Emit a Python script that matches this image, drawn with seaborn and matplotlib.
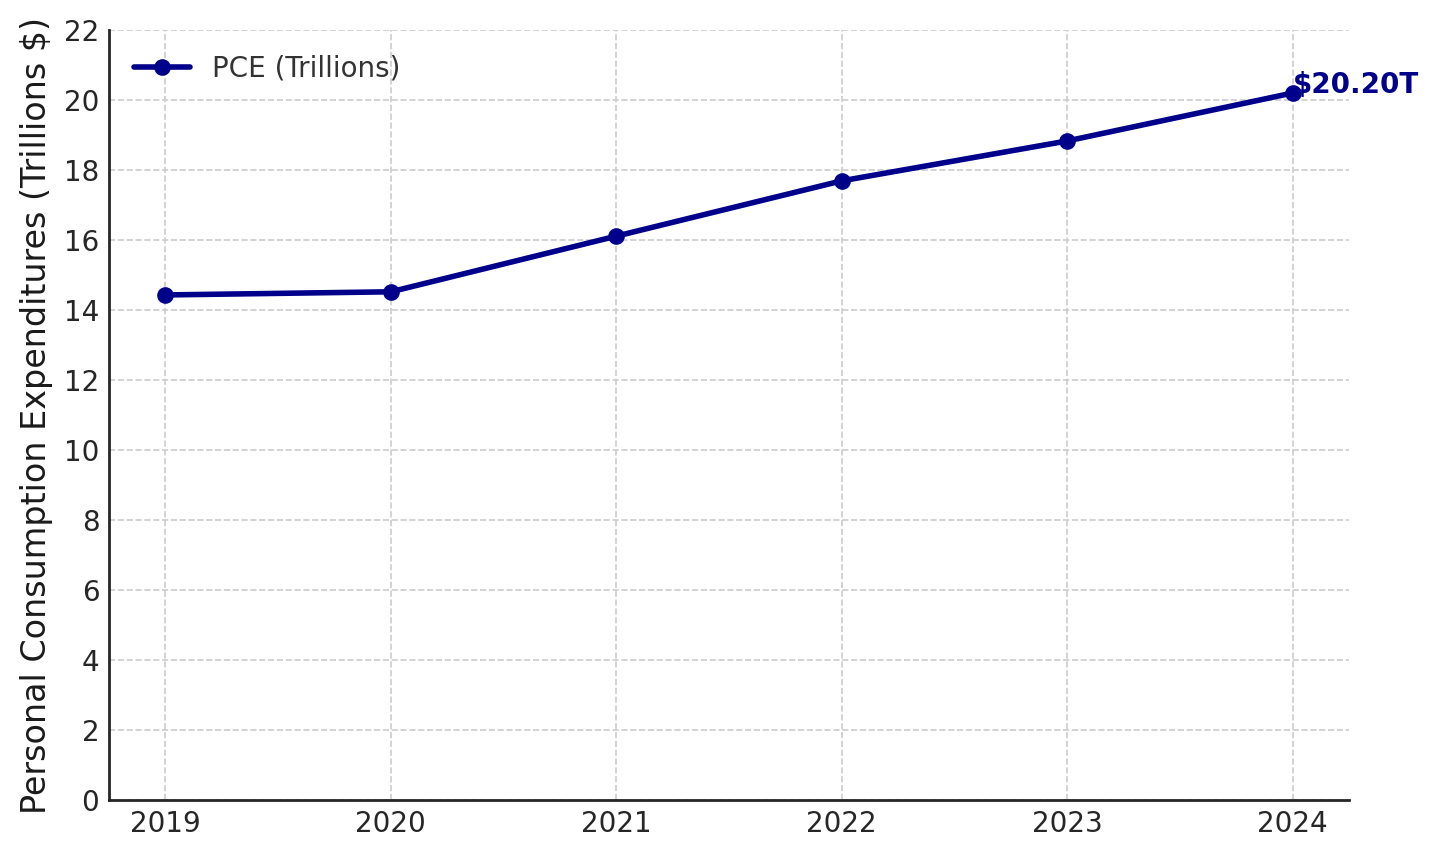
import matplotlib
matplotlib.use("Agg")
import matplotlib.pyplot as plt
import seaborn as sns
import pandas as pd

years = [2019, 2020, 2021, 2022, 2023, 2024]
pce = [14.43, 14.52, 16.11, 17.69, 18.83, 20.20]
yticks = list(range(0, 23, 2))

sns.set_style("white")
plt.rcParams['font.family'] = ['DejaVu Sans']

df = pd.DataFrame({"Year": years, "PCE": pce})

fig, ax = plt.subplots(figsize=(1439/200, 858/200), dpi=200)
fig.subplots_adjust(left=109/1439, right=1349/1439, top=1-30/858, bottom=1-800/858)

sns.lineplot(data=df, x="Year", y="PCE", marker="o", color="darkblue",
             linewidth=2, markersize=6, markeredgewidth=0, label="PCE (Trillions)", ax=ax)

ax.text(years[-1], pce[-1], f"${pce[-1]:.2f}T", color="darkblue", fontsize=10,
        fontweight="bold", ha="left", va="baseline")

ax.set_ylim(0, 22)
ax.set_yticks(yticks)
ax.set_xticks(years)
ax.set_xlabel("")
ax.set_ylabel("Personal Consumption Expenditures (Trillions $)", fontsize=12, color="#1a1a1a")
ax.tick_params(axis="both", direction="in", labelsize=10, colors="#262626", length=4, width=1)
ax.grid(True, linestyle="--", color="#cccccc", linewidth=0.6)
for s in ["top", "right"]:
    ax.spines[s].set_visible(False)
for s in ["left", "bottom"]:
    ax.spines[s].set_color("#262626")
    ax.spines[s].set_linewidth(1)

leg = ax.legend(loc="upper left", frameon=False, fontsize=10)
for t in leg.get_texts():
    t.set_color("#333333")

fig.savefig("out.png", dpi=200)
